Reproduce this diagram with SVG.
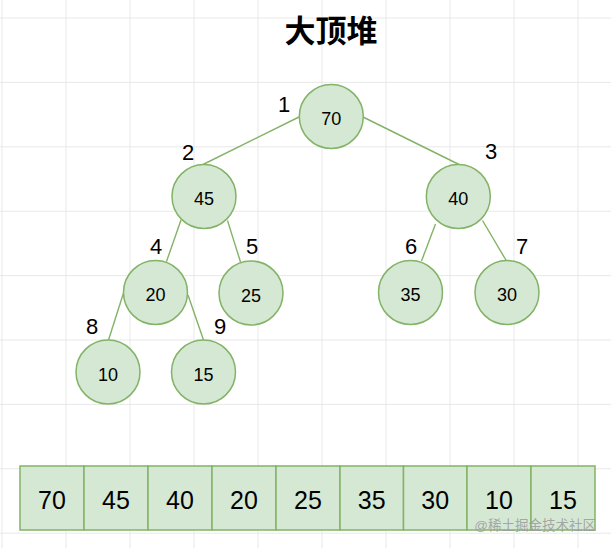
<svg xmlns="http://www.w3.org/2000/svg" width="611" height="548" viewBox="0 0 611 548">
<defs>
<style>
.grid line{stroke:#e8e8e8;stroke-width:1}
.node circle{fill:#d5e8d4;stroke:#82b366;stroke-width:1.5}
.node text{font-family:"Liberation Sans",Arial,sans-serif;font-size:18px;fill:#000;text-anchor:middle}
.idx{font-family:"Liberation Sans",Arial,sans-serif;font-size:22px;fill:#000;text-anchor:middle}
.edges line{stroke:#82b366;stroke-width:1.4}
.cell rect{fill:#d5e8d4;stroke:#82b366;stroke-width:1.5}
.cell text{font-family:"Liberation Sans",Arial,sans-serif;font-size:25px;fill:#000;text-anchor:middle}
</style>
</defs>
<rect width="611" height="548" fill="#ffffff"/>
<g class="grid">
<line x1="2" y1="0" x2="2" y2="548"/>
<line x1="66" y1="0" x2="66" y2="548"/>
<line x1="130" y1="0" x2="130" y2="548"/>
<line x1="194" y1="0" x2="194" y2="548"/>
<line x1="258" y1="0" x2="258" y2="548"/>
<line x1="322" y1="0" x2="322" y2="548"/>
<line x1="386" y1="0" x2="386" y2="548"/>
<line x1="450" y1="0" x2="450" y2="548"/>
<line x1="514" y1="0" x2="514" y2="548"/>
<line x1="578" y1="0" x2="578" y2="548"/>
<line x1="0" y1="18" x2="611" y2="18"/>
<line x1="0" y1="82.4" x2="611" y2="82.4"/>
<line x1="0" y1="146.8" x2="611" y2="146.8"/>
<line x1="0" y1="211.2" x2="611" y2="211.2"/>
<line x1="0" y1="275.6" x2="611" y2="275.6"/>
<line x1="0" y1="340" x2="611" y2="340"/>
<line x1="0" y1="404.4" x2="611" y2="404.4"/>
<line x1="0" y1="468.8" x2="611" y2="468.8"/>
<line x1="0" y1="533.2" x2="611" y2="533.2"/>
</g>
<text x="331" y="42" font-family="'Noto Sans CJK SC',sans-serif" font-size="31" font-weight="bold" text-anchor="middle" fill="#000">大顶堆</text>
<g class="edges" id="connectors">
<line x1="299" y1="117" x2="202" y2="165"/>
<line x1="363" y1="117" x2="459" y2="164.5"/>
<line x1="181" y1="220" x2="166.5" y2="261.5"/>
<line x1="227.5" y1="220.5" x2="240.5" y2="262"/>
<line x1="435.5" y1="224" x2="421.5" y2="261"/>
<line x1="482.5" y1="220.5" x2="506.5" y2="261"/>
<line x1="123.5" y1="293" x2="108.5" y2="340"/>
<line x1="188" y1="295" x2="203.5" y2="340"/>
</g>
<g class="node" id="n1"><circle cx="331.3" cy="116.5" r="32"/><text x="331.3" y="125">70</text></g>
<g class="node" id="n2"><circle cx="204" cy="196.5" r="32"/><text x="204" y="205">45</text></g>
<g class="node" id="n3"><circle cx="458.3" cy="196.5" r="32"/><text x="458.3" y="205">40</text></g>
<g class="node" id="n4"><circle cx="155.5" cy="292.5" r="32"/><text x="155.5" y="301">20</text></g>
<g class="node" id="n5"><circle cx="251" cy="293" r="32"/><text x="251" y="301.5">25</text></g>
<g class="node" id="n6"><circle cx="410.5" cy="292.5" r="32"/><text x="410.5" y="301">35</text></g>
<g class="node" id="n7"><circle cx="507" cy="292.5" r="32"/><text x="507" y="301">30</text></g>
<g class="node" id="n8"><circle cx="108" cy="372" r="32"/><text x="108" y="380.5">10</text></g>
<g class="node" id="n9"><circle cx="203.5" cy="372" r="32"/><text x="203.5" y="380.5">15</text></g>
<g id="labels">
<text class="idx" x="284" y="112">1</text>
<text class="idx" x="188" y="160">2</text>
<text class="idx" x="491" y="159">3</text>
<text class="idx" x="156" y="254">4</text>
<text class="idx" x="252" y="254">5</text>
<text class="idx" x="411" y="254">6</text>
<text class="idx" x="522" y="254">7</text>
<text class="idx" x="92" y="334">8</text>
<text class="idx" x="220" y="334">9</text>
</g>
<g id="array">
<g class="cell"><rect x="20" y="466" width="64" height="64"/><text x="52" y="509">70</text></g>
<g class="cell"><rect x="84" y="466" width="64" height="64"/><text x="116" y="509">45</text></g>
<g class="cell"><rect x="148" y="466" width="64" height="64"/><text x="180" y="509">40</text></g>
<g class="cell"><rect x="212" y="466" width="64" height="64"/><text x="244" y="509">20</text></g>
<g class="cell"><rect x="276" y="466" width="64" height="64"/><text x="308" y="509">25</text></g>
<g class="cell"><rect x="340" y="466" width="63.5" height="64"/><text x="371.7" y="509">35</text></g>
<g class="cell"><rect x="403.5" y="466" width="63.5" height="64"/><text x="435.2" y="509">30</text></g>
<g class="cell"><rect x="467" y="466" width="64" height="64"/><text x="499" y="509">10</text></g>
<g class="cell"><rect x="531" y="466" width="64" height="64"/><text x="563" y="509">15</text></g>
</g>
<text x="596" y="530" font-family="'Liberation Sans','Noto Sans CJK SC',sans-serif" font-size="13.5" text-anchor="end" fill="#9a9a9a" fill-opacity="0.85">@稀土掘金技术社区</text>
</svg>
